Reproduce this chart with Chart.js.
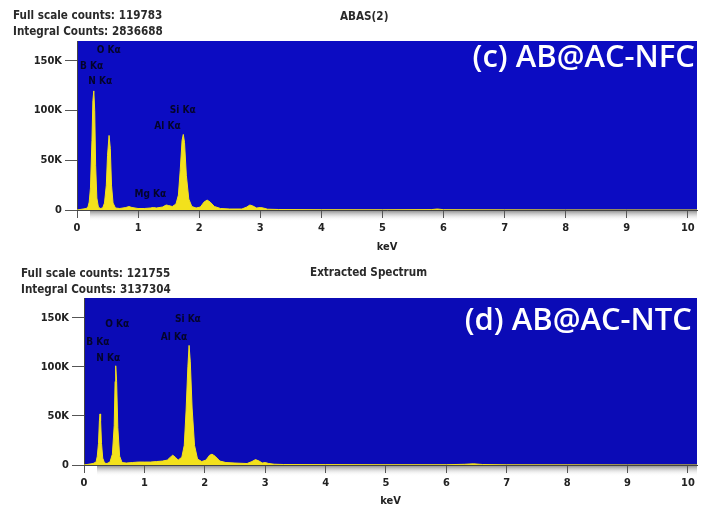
<!DOCTYPE html>
<html>
<head>
<meta charset="utf-8">
<script src="https://cdn.jsdelivr.net/npm/chart.js@4.4.1/dist/chart.umd.min.js"></script>
<style>
  body { margin: 0; background: #fff; width: 701px; height: 512px; position: relative; overflow: hidden; }
  canvas { position: absolute; left: 0; }
  #topChart { top: 0; }
  #bottomChart { top: 258px; }
  .hdr { position: absolute; font: bold 11.6px "DejaVu Sans Condensed", "DejaVu Sans", sans-serif; color: #2a2a2a; white-space: nowrap; }
</style>
</head>
<body>
<canvas id="topChart" width="701" height="258"></canvas>
<canvas id="bottomChart" width="701" height="254"></canvas>
<div class="hdr" style="left:13px; top:8px;">Full scale counts: 119783</div>
<div class="hdr" style="left:13px; top:24px;">Integral Counts: 2836688</div>
<div class="hdr" style="left:340px; top:9px;">ABAS(2)</div>
<div class="hdr" style="left:21px; top:266px;">Full scale counts: 121755</div>
<div class="hdr" style="left:21px; top:282px;">Integral Counts: 3137304</div>
<div class="hdr" style="left:310px; top:265px;">Extracted Spectrum</div>
<script>
// spectrum (c) AB@AC-NFC
const kevC = [0, 0.05, 0.10, 0.15, 0.18, 0.20, 0.22, 0.245, 0.26, 0.275, 0.29, 0.305, 0.325, 0.35, 0.38,
  0.42, 0.45, 0.48, 0.50, 0.525, 0.545, 0.565, 0.59, 0.63, 0.70, 0.80, 0.85, 0.90, 1.00, 1.10, 1.20, 1.25,
  1.30, 1.40, 1.46, 1.50, 1.56, 1.62, 1.66, 1.69, 1.72, 1.74, 1.76, 1.79, 1.83, 1.88, 1.95, 2.02, 2.08,
  2.13, 2.18, 2.25, 2.35, 2.50, 2.70, 2.78, 2.83, 2.88, 2.94, 3.00, 3.05, 3.12, 3.30, 4.00, 5.00, 5.80,
  5.90, 6.00, 7.00, 8.00, 9.00, 10.15];
const countsC = [0, 500, 1000, 1500, 3000, 8000, 22000, 70000, 110000, 119783, 100000, 45000, 12000, 3000, 1500,
  2000, 7000, 25000, 55000, 75000, 62000, 25000, 7000, 2000, 1500, 2500, 3500, 2500, 1500, 1500, 2000, 2500,
  2000, 3000, 5000, 4500, 3500, 6000, 15000, 40000, 70000, 76000, 68000, 35000, 11000, 3500, 2000, 3000, 8000,
  10000, 8000, 3500, 1500, 1000, 1000, 3000, 5000, 4000, 2000, 2500, 2000, 800, 500, 300, 250, 400,
  1000, 300, 150, 100, 80, 50];
const peaksC = [
  ['O Kα', 0.52, 161000], ['B Kα', 0.24, 144000], ['N Kα', 0.38, 129000],
  ['Si Kα', 1.73, 100000], ['Al Kα', 1.48, 84000], ['Mg Kα', 1.20, 15500]
];

// spectrum (d) AB@AC-NTC
const kevD = [0, 0.05, 0.10, 0.15, 0.20, 0.22, 0.24, 0.255, 0.265, 0.275, 0.29, 0.31, 0.34, 0.38, 0.43,
  0.47, 0.50, 0.515, 0.525, 0.54, 0.56, 0.59, 0.63, 0.70, 0.80, 0.90, 1.00, 1.10, 1.20, 1.30, 1.38, 1.43,
  1.47, 1.51, 1.56, 1.62, 1.66, 1.69, 1.72, 1.74, 1.76, 1.79, 1.83, 1.88, 1.95, 2.02, 2.08, 2.12, 2.17,
  2.25, 2.35, 2.50, 2.70, 2.78, 2.84, 2.90, 2.95, 3.00, 3.06, 3.15, 3.30, 4.00, 5.00, 6.00, 6.30, 6.45,
  6.60, 7.00, 8.00, 9.00, 10.15];
const countsD = [0, 500, 1000, 1500, 3000, 9000, 22000, 45000, 52000, 45000, 22000, 7000, 2000, 1500, 3000,
  11000, 40000, 85000, 101000, 85000, 38000, 9000, 2500, 2000, 2500, 3000, 3000, 3000, 3500, 4000, 5000, 8000,
  10000, 8000, 5000, 8000, 20000, 55000, 100000, 121755, 105000, 58000, 20000, 6000, 3500, 5000, 10000, 11000, 9000,
  4000, 2500, 2000, 1500, 3500, 5500, 4000, 2000, 2500, 1500, 800, 500, 400, 300, 300, 700, 1200,
  500, 200, 150, 100, 60];
const peaksD = [
  ['O Kα', 0.55, 143000], ['B Kα', 0.23, 125000], ['N Kα', 0.40, 108000],
  ['Si Kα', 1.72, 148000], ['Al Kα', 1.49, 130000]
];

const xTicks = [0, 1, 2, 3, 4, 5, 6, 7, 8, 9, 10];
const yTicks = [0, 50000, 100000, 150000];

const tickFont = { family: '"DejaVu Sans Condensed", "DejaVu Sans"', size: 11, weight: 'bold' };

const panelPlugin = {
  id: 'panel',
  beforeDraw(chart, args, opts) {
    const ctx = chart.ctx, a = chart.chartArea;
    ctx.save();
    ctx.fillStyle = opts.bg;
    ctx.fillRect(a.left, a.top, a.right - a.left, a.bottom - a.top);
    // grey shadow under the axis
    const g = ctx.createLinearGradient(0, a.bottom, 0, a.bottom + 11);
    g.addColorStop(0, '#808080');
    g.addColorStop(1, 'rgba(255,255,255,0)');
    ctx.fillStyle = g;
    ctx.fillRect(a.left + 13, a.bottom, a.right - a.left - 13, 11);
    ctx.restore();
  },
  afterDatasetsDraw(chart, args, opts) {
    const ctx = chart.ctx, a = chart.chartArea;
    const x = chart.scales.x, y = chart.scales.y;
    ctx.save();
    ctx.font = 'bold 10px "DejaVu Sans Condensed", "DejaVu Sans"';
    ctx.fillStyle = '#04042a';
    ctx.textAlign = 'center';
    ctx.textBaseline = 'middle';
    opts.peaks.forEach(p => {
      ctx.fillText(p[0], x.getPixelForValue(p[1]), y.getPixelForValue(p[2]));
    });
    ctx.font = '600 31px "Open Sans"';
    ctx.fillStyle = '#ffffff';
    ctx.textAlign = 'right';
    ctx.fillText(opts.title, a.right - opts.titleDx, a.top + opts.titleDy);
    ctx.restore();
  }
};

function makePanel(id, kev, counts, peaks, title, bg, box) {
  const ctx = document.getElementById(id).getContext('2d');
  return new Chart(ctx, {
    type: 'line',
    data: {
      datasets: [{
        data: kev.map((k, i) => ({ x: k, y: counts[i] })),
        borderColor: '#f3e11c',
        backgroundColor: '#f3e11c',
        borderWidth: 1,
        fill: 'origin',
        pointRadius: 0,
        tension: 0
      }]
    },
    options: {
      responsive: false,
      animation: false,
      layout: { padding: { top: box.top, right: 4, left: 0, bottom: 0 } },
      plugins: {
        legend: { display: false },
        tooltip: { enabled: false },
        panel: { peaks: peaks, title: title, bg: bg, titleDx: box.titleDx, titleDy: box.titleDy }
      },
      scales: {
        x: {
          type: 'linear',
          min: 0,
          max: 10.15,
          afterFit: s => { s.height = box.bottom; },
          afterBuildTicks: s => { s.ticks = xTicks.map(v => ({ value: v })); },
          ticks: { font: tickFont, color: '#222', padding: 4, maxRotation: 0 },
          grid: { drawOnChartArea: false, tickLength: 8, color: '#555' },
          border: { color: '#444', width: 1 },
          title: { display: true, text: 'keV', font: tickFont, color: '#222', padding: { top: 0, bottom: 4 } }
        },
        y: {
          min: 0,
          max: 170000,
          afterFit: s => { s.width = box.left; },
          afterBuildTicks: s => { s.ticks = yTicks.map(v => ({ value: v })); },
          ticks: { font: tickFont, color: '#222', padding: 3,
            callback: v => v === 0 ? '0' : (v / 1000) + 'K' },
          grid: { drawOnChartArea: false, tickLength: 12, color: '#555' },
          border: { color: '#444', width: 1 }
        }
      }
    },
    plugins: [panelPlugin]
  });
}

makePanel('topChart', kevC, countsC, peaksC, '(c) AB@AC-NFC', '#0c0cc2',
  { top: 41, left: 77, bottom: 48, titleDx: 2, titleDy: 17 });
makePanel('bottomChart', kevD, countsD, peaksD, '(d) AB@AC-NTC', '#0b0bb6',
  { top: 40, left: 84, bottom: 47, titleDx: 5, titleDy: 23 });
</script>
</body>
</html>
